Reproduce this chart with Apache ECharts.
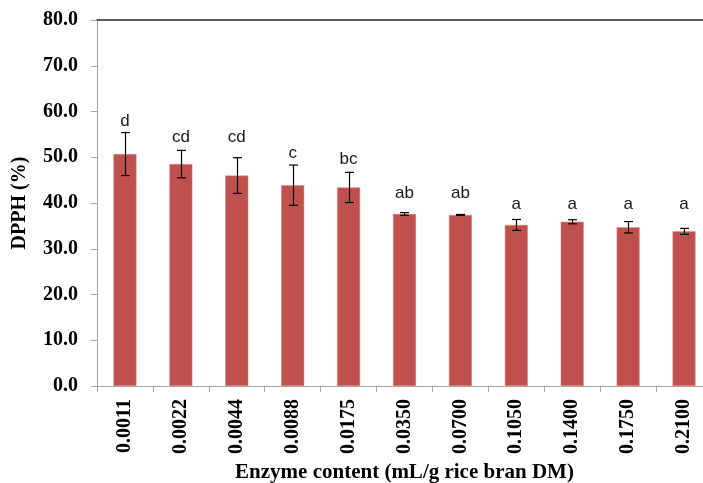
<!DOCTYPE html>
<html>
<head>
<meta charset="utf-8">
<script src="https://cdn.jsdelivr.net/npm/echarts@6/dist/echarts.min.js"></script>
<style>
  html, body { margin: 0; padding: 0; background: #fff; }
  #chart { width: 703px; height: 483px; }
</style>
</head>
<body>
<div id="chart"></div>
<script>
// Enzyme dose (mL/g rice bran DM) and DPPH scavenging (%)
const categories = ['0.0011', '0.0022', '0.0044', '0.0088', '0.0175', '0.0350', '0.0700', '0.1050', '0.1400', '0.1750', '0.2100'];
const dpphMean = [50.7, 48.5, 46.0, 43.9, 43.4, 37.6, 37.4, 35.2, 35.9, 34.7, 33.8];
const dpphSD = [4.7, 3.0, 3.9, 4.4, 3.3, 0.3, 0.1, 1.2, 0.45, 1.25, 0.65];
// Significance letters and the height (in % units) at which each one sits
const letters = ['d', 'cd', 'cd', 'c', 'bc', 'ab', 'ab', 'a', 'a', 'a', 'a'];
const letterHeights = [56.0, 52.5, 52.5, 49.1, 47.8, 40.3, 40.3, 37.8, 37.8, 37.8, 37.8];
const yTicks = { min: 0, max: 80, interval: 10 };

const serif = '"Liberation Serif", "Times New Roman", serif';
const sans = '"Liberation Sans", Arial, sans-serif';
const axisGray = '#a6a6a6';

const chart = echarts.init(document.getElementById('chart'));

chart.setOption({
  animation: false,
  grid: { left: 97, top: 20, width: 615, height: 366, containLabel: false, outerBoundsMode: 'none' },
  xAxis: [{
    type: 'category',
    data: categories,
    boundaryGap: true,
    axisLine: { lineStyle: { color: axisGray, width: 1 } },
    axisTick: { show: true, alignWithLabel: false, length: 6, lineStyle: { color: axisGray } },
    axisLabel: {
      rotate: 90, margin: 13, color: '#000',
      fontFamily: serif, fontWeight: 'bold', fontSize: 20
    },
    name: 'Enzyme content (mL/g rice bran DM)',
    nameLocation: 'middle',
    nameGap: 73,
    nameTextStyle: { fontFamily: serif, fontWeight: 'bold', fontSize: 21, color: '#000' }
  }, {
    // top border of the plot area
    type: 'category',
    data: categories,
    position: 'top',
    axisLine: { show: true, lineStyle: { color: '#222', width: 1.5 } },
    axisTick: { show: false },
    axisLabel: { show: false }
  }],
  yAxis: {
    type: 'value',
    min: yTicks.min, max: yTicks.max, interval: yTicks.interval,
    axisLine: { show: true, lineStyle: { color: axisGray, width: 1 } },
    axisTick: { show: true, length: 6, lineStyle: { color: axisGray } },
    splitLine: { show: false },
    axisLabel: {
      margin: 19, color: '#000',
      fontFamily: serif, fontWeight: 'bold', fontSize: 20,
      formatter: v => v.toFixed(1)
    },
    name: 'DPPH (%)',
    nameLocation: 'middle',
    nameGap: 67,
    nameTextStyle: { fontFamily: serif, fontWeight: 'bold', fontSize: 20, color: '#000' }
  },
  series: [
    {
      type: 'bar',
      data: dpphMean,
      barWidth: 23,
      itemStyle: { color: '#c0504d', borderColor: '#d98a88', borderWidth: 0.5 }
    },
    {
      // error bars (mean ± SD) with caps
      type: 'custom',
      data: dpphMean.map((m, i) => [i, m - dpphSD[i], m + dpphSD[i]]),
      z: 5,
      renderItem: (params, api) => {
        const lo = api.coord([api.value(0), api.value(1)]);
        const hi = api.coord([api.value(0), api.value(2)]);
        const x = Math.round(lo[0]) + 0.5;
        const cap = 4.5;
        const style = { stroke: '#000', lineWidth: 1.2 };
        return {
          type: 'group',
          children: [
            { type: 'line', shape: { x1: x, y1: hi[1], x2: x, y2: lo[1] }, style },
            { type: 'line', shape: { x1: x - cap, y1: hi[1], x2: x + cap, y2: hi[1] }, style },
            { type: 'line', shape: { x1: x - cap, y1: lo[1], x2: x + cap, y2: lo[1] }, style }
          ]
        };
      }
    },
    {
      // significance letters
      type: 'custom',
      data: letterHeights.map((h, i) => [i, h]),
      z: 6,
      renderItem: (params, api) => {
        const p = api.coord([api.value(0), api.value(1)]);
        return {
          type: 'text',
          x: p[0], y: p[1],
          style: {
            text: letters[params.dataIndex],
            fill: '#1a1a1a',
            font: '17px ' + sans,
            align: 'center',
            verticalAlign: 'bottom'
          }
        };
      }
    }
  ]
});
</script>
</body>
</html>
